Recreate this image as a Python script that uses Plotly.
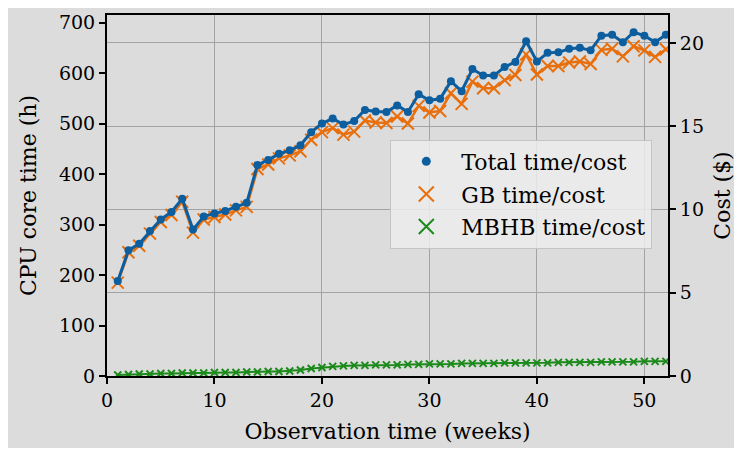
import plotly.graph_objects as go

weeks = list(range(1, 53))

total_time = [188, 249, 262, 287, 310, 325, 351, 290, 316, 322, 327, 335, 343, 418,
              428, 440, 447, 457, 483, 500, 510, 498, 505, 527, 524, 523, 536, 523,
              558, 546, 549, 584, 564, 608, 595, 595, 612, 622, 663, 623, 640, 641,
              648, 650, 645, 674, 676, 661, 681, 674, 661, 676]

gb_time = [185, 245, 258, 282, 305, 319, 345, 284, 310, 315, 320, 328, 335, 410,
           419, 431, 437, 445, 468, 483, 491, 478, 484, 506, 502, 501, 514, 500,
           535, 522, 525, 560, 539, 583, 570, 570, 586, 596, 637, 597, 614, 614,
           621, 623, 618, 646, 648, 633, 653, 645, 632, 647]

mbhb_time = [2, 3, 4, 4, 5, 5, 6, 6, 6, 7, 7, 7, 8, 8, 9, 9, 10, 12, 15, 17, 19,
             20, 21, 21, 22, 22, 22, 23, 23, 24, 24, 24, 25, 25, 25, 25, 26, 26,
             26, 26, 26, 27, 27, 27, 27, 28, 28, 28, 28, 29, 29, 29]

legend_names = ['Total time/cost', 'GB time/cost', 'MBHB time/cost']

blue = '#0c5e9f'
orange = '#e86f0c'
green = '#1b8a1b'
bg = '#dcdcdc'
grid = '#a3a3a3'
font = 'DejaVu Serif'

fig = go.Figure()

# plotted series (lines + markers), legend handled by marker-only dummies
fig.add_trace(go.Scatter(x=weeks, y=mbhb_time, mode='lines+markers',
                         line=dict(color=green, width=2),
                         marker=dict(symbol='x-thin', size=7, line=dict(color=green, width=2)),
                         showlegend=False))
fig.add_trace(go.Scatter(x=weeks, y=gb_time, mode='lines+markers',
                         line=dict(color=orange, width=2.5),
                         marker=dict(symbol='x-thin', size=12, line=dict(color=orange, width=2)),
                         showlegend=False))
fig.add_trace(go.Scatter(x=weeks, y=total_time, mode='lines+markers',
                         line=dict(color=blue, width=3),
                         marker=dict(symbol='circle', size=8, color=blue),
                         showlegend=False))

# legend entries
fig.add_trace(go.Scatter(x=[None], y=[None], mode='markers', name=legend_names[0],
                         legendgroup='a', marker=dict(symbol='circle', size=9, color=blue)))
fig.add_trace(go.Scatter(x=[None], y=[None], mode='markers', name=legend_names[1],
                         legendgroup='b',
                         marker=dict(symbol='x-thin', size=15, line=dict(color=orange, width=2))))
fig.add_trace(go.Scatter(x=[None], y=[None], mode='markers', name=legend_names[2],
                         legendgroup='c',
                         marker=dict(symbol='x-thin', size=15, line=dict(color=green, width=2))))

# invisible trace so the cost axis is drawn
fig.add_trace(go.Scatter(x=[0], y=[0], yaxis='y2', mode='lines', opacity=0,
                         showlegend=False, hoverinfo='skip'))

tick_style = dict(ticks='outside', ticklen=6, tickwidth=1.5, tickcolor='black',
                  showline=True, linecolor='black', linewidth=2, zeroline=False,
                  automargin=False, tickfont=dict(size=19))

fig.update_layout(
    width=727, height=440,
    margin=dict(l=99, r=67, t=7, b=72),
    paper_bgcolor=bg,
    plot_bgcolor=bg,
    font=dict(family=font, size=18.5, color='black'),
    xaxis=dict(range=[0, 52.2], dtick=10, showgrid=True, gridcolor=grid, gridwidth=1.3,
               mirror=True, title=dict(text='Observation time (weeks)', standoff=14),
               **tick_style),
    yaxis=dict(range=[0, 715], dtick=100, showgrid=False,
               title=dict(text='CPU core time (h)', standoff=16), **tick_style),
    yaxis2=dict(range=[0, 21.68], dtick=5, overlaying='y', side='right',
                showgrid=True, gridcolor=grid, gridwidth=1.3,
                title=dict(text='Cost ($)', standoff=24), **tick_style),
    legend=dict(x=0.505, y=0.655, xanchor='left', yanchor='top',
                bgcolor='rgba(236,236,236,0.85)', bordercolor='#c4c4c4', borderwidth=1,
                traceorder='grouped', tracegroupgap=1, itemwidth=60,
                font=dict(size=22)),
)

fig.write_html("out.html")
